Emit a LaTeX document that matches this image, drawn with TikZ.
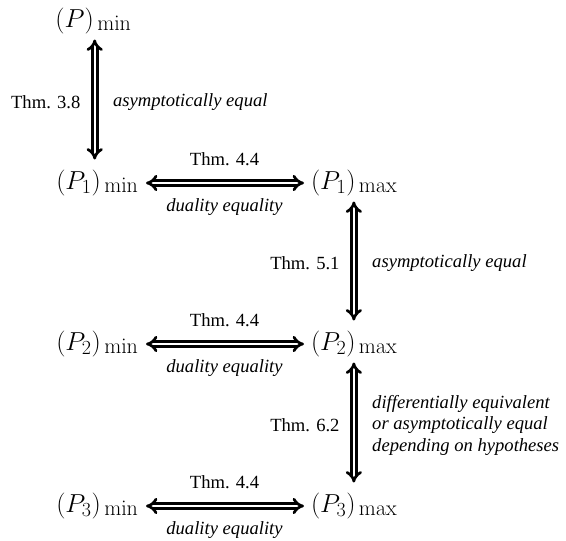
\RequirePackage{fix-cm}
\documentclass[tikz,border=0pt]{standalone}
\usepackage[no-math]{fontspec}
\setmainfont{Liberation Serif}
\usetikzlibrary{arrows.meta}
\newcommand{\psub}[1]{_{\hbox{\fontsize{20}{20}\selectfont$#1$}}}
\newcommand{\pexpr}[2]{{\fontsize{26}{28}\selectfont$(#1)$}\kern3.5pt\raisebox{-3pt}{\fontsize{22}{24}\selectfont$\mathrm{#2}$}}
\tikzset{
  prob/.style={inner sep=0pt, outer sep=0pt, text height=19.5pt, text depth=6.5pt},
  tipx/.tip={Implies[length=9pt,width=17pt,line width=1pt]},
  dbl/.style={double, line width=2.7pt, double distance=2.4pt, tipx-tipx},
  hor/.style={dbl, shorten <=8pt, shorten >=7pt},
  ver/.style={dbl, shorten <=5.5pt, shorten >=10.5pt},
  lab/.style={inner sep=0pt, font=\fontsize{18.6}{21.5}\selectfont},
  ilab/.style={inner sep=0pt, font=\fontsize{18.6}{21.5}\selectfont\itshape, align=left},
}
\begin{document}
\begin{tikzpicture}[x=1pt, y=-1pt]
\useasboundingbox (0,0) rectangle (566,541);
\node[prob, anchor=base east] (Pmin) at (131,27.5) {\pexpr{P}{min}};
\node[prob, anchor=base east] (P1min) at (138,189.5) {\pexpr{P\psub{1}}{min}};
\node[prob, anchor=base west] (P1max) at (311,189.5) {\pexpr{P\psub{1}}{max}};
\node[prob, anchor=base east] (P2min) at (138,350.5) {\pexpr{P\psub{2}}{min}};
\node[prob, anchor=base west] (P2max) at (311,350.5) {\pexpr{P\psub{2}}{max}};
\node[prob, anchor=base east] (P3min) at (138,512.5) {\pexpr{P\psub{3}}{min}};
\node[prob, anchor=base west] (P3max) at (311,512.5) {\pexpr{P\psub{3}}{max}};

\draw[ver] ([xshift=1.5pt]Pmin.south) -- ([xshift=1.5pt]Pmin.south |- P1min.north)
  node[lab, midway, left=13pt] {Thm. 3.8}
  node[ilab, midway, right=17pt] {asymptotically equal};
\draw[hor] (P1min.east) -- (P1max.west)
  node[lab, midway, above=15.6pt] {Thm. 4.4}
  node[ilab, midway, below=14.6pt] {duality equality};
\draw[ver] (P1max.south) -- (P2max.north)
  node[lab, midway, left=13pt] {Thm. 5.1}
  node[ilab, midway, right=17pt] {asymptotically equal};
\draw[hor] (P2min.east) -- (P2max.west)
  node[lab, midway, above=15.6pt] {Thm. 4.4}
  node[ilab, midway, below=14.6pt] {duality equality};
\draw[ver] (P2max.south) -- (P3max.north)
  node[lab, midway, left=13pt] {Thm. 6.2}
  node[ilab, midway, right=17pt] {differentially equivalent\\or asymptotically equal\\depending on hypotheses};
\draw[hor] (P3min.east) -- (P3max.west)
  node[lab, midway, above=15.6pt] {Thm. 4.4}
  node[ilab, midway, below=14.6pt] {duality equality};
\end{tikzpicture}
\end{document}
